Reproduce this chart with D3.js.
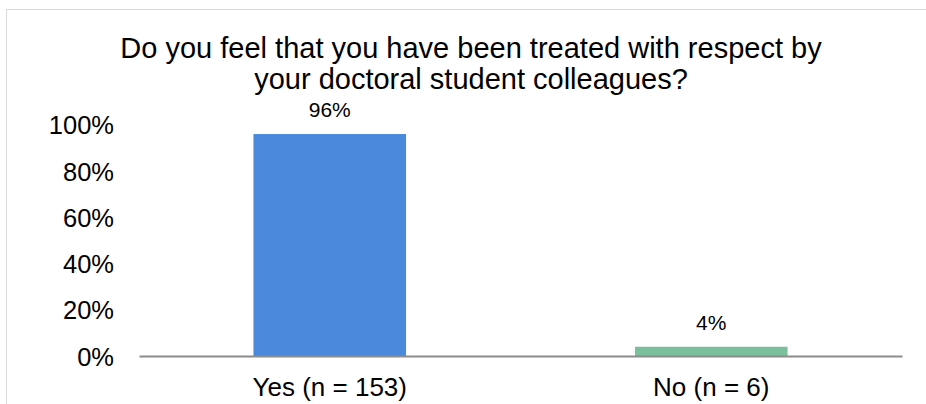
<!DOCTYPE html>
<html><head><meta charset="utf-8">
<script src="https://cdn.jsdelivr.net/npm/d3@7"></script>
<style>body{margin:0;background:#fff}svg{display:block}text{font-family:"Liberation Sans",Arial,sans-serif;fill:#000}</style>
</head><body>
<svg id="c" width="926" height="404"></svg>
<script>
const categories = ["Yes (n = 153)", "No (n = 6)"];
const values = [0.96, 0.04];
const dataLabels = ["96%", "4%"];
const colors = ["#4A89DC", "#7BC09A"];
const yTicks = [0, 0.2, 0.4, 0.6, 0.8, 1.0];
const titleLines = ["Do you feel that you have been treated with respect by", "your doctoral student colleagues?"];

const svg = d3.select("#c");
svg.append("rect").attr("x",6.5).attr("y",9.5).attr("width",940).attr("height",420)
  .attr("fill","#fff").attr("stroke","#d9d9d9").attr("stroke-width",1);

const x = d3.scaleBand().domain(categories).range([139, 902]).padding(0);
const y = d3.scaleLinear().domain([0, 1]).range([356, 124.8]);
const barW = x.bandwidth() * 0.4;

svg.selectAll(".bar").data(values).join("rect")
  .attr("x", (d,i) => x(categories[i]) + x.bandwidth()/2 - barW/2)
  .attr("y", d => y(d))
  .attr("width", barW)
  .attr("height", d => y(0) - y(d))
  .attr("fill", (d,i) => colors[i]);

svg.selectAll(".dl").data(values).join("text")
  .attr("x", (d,i) => x(categories[i]) + x.bandwidth()/2)
  .attr("y", d => y(d) - 17)
  .attr("text-anchor","middle")
  .style("font-size","21px").text((d,i) => dataLabels[i]);

const yAxis = d3.axisLeft(y).tickValues(yTicks).tickFormat(d3.format(".0%")).tickSize(0).tickPadding(0);
const gy = svg.append("g").attr("transform","translate(114,0)").call(yAxis);
gy.select(".domain").remove();
gy.selectAll("text").style("font-size","25.5px").attr("fill","#000").attr("dy","0.36em");

const xAxis = d3.axisBottom(x).tickSize(0).tickPadding(0);
const gx = svg.append("g").attr("transform","translate(0,356)").call(xAxis);
gx.select(".domain").attr("stroke","#8c8c8c").attr("stroke-width",2);
gx.selectAll("text").style("font-size","26px").attr("fill","#000").attr("y",40).attr("dy","0");

svg.selectAll(".title").data(titleLines).join("text")
  .attr("x", 471).attr("y", (d,i) => 57.5 + i*31.5)
  .attr("text-anchor","middle")
  .style("font-size","29px").text(d => d);
</script>
</body></html>
